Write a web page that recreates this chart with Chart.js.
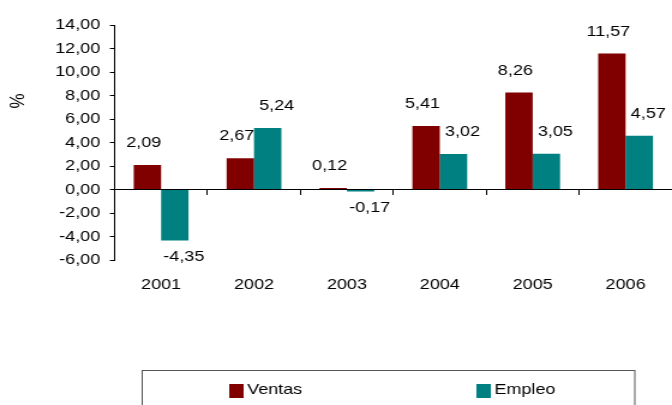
<!DOCTYPE html>
<html>
<head>
<meta charset="utf-8">
<script src="https://cdn.jsdelivr.net/npm/chart.js@4"></script>
<style>
  html, body { margin: 0; padding: 0; background: #fff; }
</style>
</head>
<body>
<!-- drawn narrower, then widened horizontally -->
<canvas id="chart" width="560" height="405" style="display:block;width:672px;height:405px"></canvas>
<script>
const years = ['2001', '2002', '2003', '2004', '2005', '2006'];
const seriesNames = ['Ventas', 'Empleo'];
const ventas = [2.09, 2.67, 0.12, 5.41, 8.26, 11.57];
const empleo = [-4.35, 5.24, -0.17, 3.02, 3.05, 4.57];
const yMin = -6;
const yMax = 14;
const yStep = 2;

const colors = ['#800000', '#008080'];
const fmt = v => v.toFixed(2).replace('.', ',');

Chart.defaults.font.family = '"Liberation Sans", Arial, sans-serif';
Chart.defaults.font.size = 15;
Chart.defaults.color = '#000';

// value labels above (or below) every bar
const valueLabels = {
	id: 'valueLabels',
	afterDatasetsDraw(chart) {
		const ctx = chart.ctx;
		const shift = [-3, 7.5];
		ctx.save();
		ctx.font = '15px "Liberation Sans", Arial, sans-serif';
		ctx.fillStyle = '#000';
		ctx.textAlign = 'center';
		ctx.textBaseline = 'middle';
		chart.data.datasets.forEach((ds, i) => {
			chart.getDatasetMeta(i).data.forEach((bar, j) => {
				const v = ds.data[j];
				const y = v >= 0 ? bar.y - 22 : bar.y + 16;
				ctx.fillText(fmt(v), bar.x + shift[i], y);
			});
		});
		ctx.restore();
	}
};

// rotated "%" title on the left
const axisTitle = {
	id: 'axisTitle',
	afterDraw(chart) {
		const ctx = chart.ctx;
		ctx.save();
		ctx.translate(15, chart.chartArea.top + 76);
		ctx.rotate(-Math.PI / 2);
		ctx.font = '17px "Liberation Sans", Arial, sans-serif';
		ctx.fillStyle = '#000';
		ctx.textAlign = 'center';
		ctx.textBaseline = 'middle';
		ctx.fillText('%', 0, 0);
		ctx.restore();
	}
};

// boxed legend under the chart
const boxLegend = {
	id: 'boxLegend',
	afterDraw(chart) {
		const ctx = chart.ctx;
		const itemX = [191, 397];
		ctx.save();
		ctx.strokeStyle = '#555';
		ctx.lineWidth = 1;
		ctx.strokeRect(118.5, 370.5, 410.5, 60);
		ctx.font = '15px "Liberation Sans", Arial, sans-serif';
		ctx.textBaseline = 'alphabetic';
		ctx.textAlign = 'left';
		chart.data.datasets.forEach((ds, i) => {
			ctx.fillStyle = ds.backgroundColor;
			ctx.fillRect(itemX[i], 384, 12, 14);
			ctx.fillStyle = '#000';
			ctx.fillText(ds.label, itemX[i] + 15, 394);
		});
		ctx.restore();
	}
};

new Chart(document.getElementById('chart'), {
	type: 'bar',
	data: {
		labels: years,
		datasets: [
			{ label: seriesNames[0], data: ventas, backgroundColor: colors[0] },
			{ label: seriesNames[1], data: empleo, backgroundColor: colors[1] }
		]
	},
	options: {
		responsive: false,
		devicePixelRatio: 1,
		animation: false,
		categoryPercentage: 0.59,
		barPercentage: 1,
		layout: { padding: { left: 38, top: 25, right: 0, bottom: 103 } },
		plugins: {
			legend: { display: false },
			tooltip: { enabled: false }
		},
		scales: {
			x: {
				offset: true,
				grid: { display: false },
				border: { display: false },
				ticks: { padding: 8, maxRotation: 0 }
			},
			// zero line with boundary tick marks
			x2: {
				type: 'category',
				position: { y: 0 },
				offset: true,
				grid: { offset: true, drawOnChartArea: false, tickLength: 5, color: '#000' },
				border: { color: '#000' },
				ticks: { display: false }
			},
			y: {
				min: yMin,
				max: yMax,
				ticks: { stepSize: yStep, padding: 8, autoSkip: false, callback: v => fmt(v) },
				grid: { drawOnChartArea: false, tickLength: 4, color: '#000' },
				border: { color: '#000' }
			}
		}
	},
	plugins: [valueLabels, axisTitle, boxLegend]
});
</script>
</body>
</html>
